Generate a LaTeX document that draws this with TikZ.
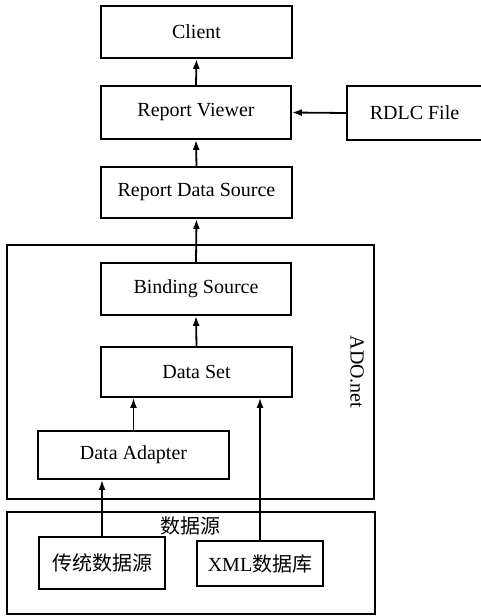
\documentclass[tikz,border=0pt]{standalone}
\usepackage{fontspec}
\setmainfont{Liberation Serif}
\newfontfamily\cjk{Noto Sans CJK SC}
\usetikzlibrary{arrows.meta}
\begin{document}
\begin{tikzpicture}[x=1pt,y=1pt,
  every node/.style={font=\fontsize{20}{24}\selectfont},
  box/.style={draw, line width=1.8pt, inner sep=0pt},
  arr/.style={line width=1.8pt, -{Latex[length=10pt,width=7pt]}}]
\useasboundingbox (0,0) rectangle (480,-616);
\node[box, minimum width=191, minimum height=52] (client) at (196.5,-32) {Client};
\node[box, minimum width=190, minimum height=53] (rv) at (196,-112.5) {Report Viewer};
\node[box, minimum width=135, minimum height=54] (rdlc) at (414.5,-113) {RDLC File};
\node[box, minimum width=191, minimum height=51] (rds) at (196.5,-192.5) {Report Data Source};
\node[box, minimum width=367, minimum height=254] (ado) at (190.5,-372) {};
\node[box, minimum width=190, minimum height=52] (bs) at (196,-289) {Binding Source};
\node[box, minimum width=191, minimum height=50] (ds) at (196.5,-372) {Data Set};
\node[box, minimum width=191, minimum height=48] (da) at (133.5,-455) {Data Adapter};
\node[rotate=-90] (adolbl) at (357,-372) {ADO.net};
\node[box, minimum width=368, minimum height=102] (src) at (191,-563) {};
\node (srclbl) at (190,-526) {\cjk 数据源};
\node[box, minimum width=126, minimum height=52] (ct) at (102,-563) {\cjk 传统数据源};
\node[box, minimum width=126, minimum height=45] (xml) at (260,-563.5) {XML{\cjk 数据库}};
\draw[arr] (rv.north) -- (client.south);
\draw[arr] (rdlc.west) -- (rv.east);
\draw[arr] (rds.north) -- (rv.south);
\draw[arr] (bs.north) -- (rds.south);
\draw[arr] (ds.north) -- (bs.south);
\draw[arr] (da.north) -- (da.north |- ds.south);
\draw[arr] (xml.north) -- (xml.north |- ds.south);
\draw[arr] (ct.north) -- (ct.north |- da.south);
\end{tikzpicture}
\end{document}
